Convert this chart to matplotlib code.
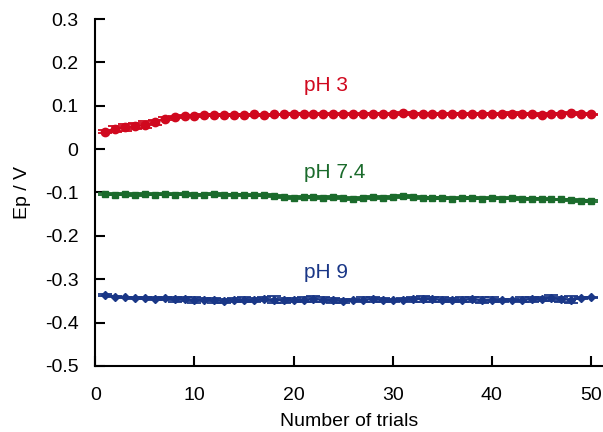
import numpy as np
import matplotlib.pyplot as plt

plt.rcParams["font.family"] = ["Liberation Sans", "DejaVu Sans"]

# ── données ──
trials = np.arange(1, 51)

ph3 = [0.040, 0.046, 0.050, 0.053, 0.056, 0.062, 0.070, 0.074, 0.076, 0.077,
       0.078, 0.078, 0.079, 0.079, 0.079, 0.080, 0.079, 0.080, 0.080, 0.081,
       0.082, 0.080, 0.081, 0.080, 0.081, 0.080, 0.081, 0.082, 0.081, 0.080,
       0.083, 0.081, 0.082, 0.081, 0.080, 0.082, 0.081, 0.080, 0.082, 0.081,
       0.080, 0.082, 0.080, 0.081, 0.079, 0.081, 0.082, 0.083, 0.081, 0.080]
ph3_err = [0.004, 0.007, 0.008, 0.007, 0.008, 0.006, 0.003, 0.002, 0.002, 0.002,
           0.002, 0.002, 0.002, 0.002, 0.002, 0.002, 0.002, 0.002, 0.002, 0.002,
           0.002, 0.002, 0.002, 0.002, 0.002, 0.002, 0.002, 0.002, 0.002, 0.002,
           0.002, 0.002, 0.002, 0.002, 0.002, 0.002, 0.002, 0.002, 0.002, 0.002,
           0.002, 0.003, 0.002, 0.002, 0.002, 0.002, 0.002, 0.002, 0.002, 0.002]

ph74 = [-0.104, -0.105, -0.104, -0.106, -0.104, -0.105, -0.104, -0.105, -0.104, -0.106,
        -0.105, -0.104, -0.106, -0.105, -0.106, -0.107, -0.106, -0.108, -0.110, -0.112,
        -0.111, -0.110, -0.112, -0.110, -0.113, -0.115, -0.112, -0.111, -0.113, -0.110,
        -0.109, -0.111, -0.112, -0.113, -0.112, -0.114, -0.113, -0.112, -0.114, -0.113,
        -0.114, -0.113, -0.115, -0.114, -0.115, -0.116, -0.116, -0.117, -0.119, -0.120]
ph74_err = [0.002] * 50

ph9 = [-0.337, -0.340, -0.342, -0.344, -0.343, -0.345, -0.344, -0.346, -0.345, -0.348,
       -0.347, -0.349, -0.350, -0.348, -0.347, -0.348, -0.346, -0.347, -0.349, -0.348,
       -0.347, -0.346, -0.347, -0.349, -0.350, -0.348, -0.347, -0.346, -0.348, -0.349,
       -0.347, -0.346, -0.345, -0.346, -0.347, -0.348, -0.347, -0.346, -0.348, -0.347,
       -0.349, -0.348, -0.347, -0.346, -0.345, -0.344, -0.346, -0.347, -0.343, -0.342]
ph9_err = [0.002, 0.002, 0.002, 0.002, 0.002, 0.003, 0.004, 0.006, 0.005, 0.006,
           0.004, 0.006, 0.005, 0.004, 0.006, 0.005, 0.004, 0.008, 0.006, 0.005,
           0.006, 0.007, 0.006, 0.005, 0.004, 0.003, 0.005, 0.006, 0.005, 0.004,
           0.003, 0.006, 0.007, 0.006, 0.005, 0.004, 0.005, 0.006, 0.007, 0.006,
           0.003, 0.002, 0.005, 0.006, 0.005, 0.007, 0.006, 0.008, 0.003, 0.002]

RED   = "#D0081E"
GREEN = "#1B6B2C"
BLUE  = "#1A3787"

series = [
    (ph3,  ph3_err,  RED,   "o", 6.0, "pH 3",   (21, 0.147)),
    (ph74, ph74_err, GREEN, "s", 5.0, "pH 7.4", (21, -0.053)),
    (ph9,  ph9_err,  BLUE,  "D", 4.0, "pH 9",   (21, -0.284)),
]

fig = plt.figure(figsize=(6.03, 4.32), dpi=100)
ax = fig.add_axes([0.158, 0.153, 0.842, 0.803])

for vals, err, col, mk, ms, lab, (tx, ty) in series:
    ax.errorbar(trials, vals, yerr=err, color=col, marker=mk, markersize=ms,
                linewidth=1.8, elinewidth=1.3, capsize=5, capthick=1.3)
    ax.text(tx, ty, lab, color=col, fontsize=15, ha="left", va="center")

ax.set_xlim(0, 51.2)
ax.set_ylim(-0.5, 0.3)
ax.set_xticks([0, 10, 20, 30, 40, 50])
ax.set_yticks(np.arange(-0.5, 0.31, 0.1))
ax.set_yticklabels(["-0.5", "-0.4", "-0.3", "-0.2", "-0.1", "0",
                    "0.1", "0.2", "0.3"])
ax.tick_params(direction="in", length=7, width=1.5, labelsize=14)
ax.tick_params(axis="y", pad=12)
ax.tick_params(axis="x", pad=15)
ax.spines["top"].set_visible(False)
ax.spines["right"].set_visible(False)
ax.spines["left"].set_linewidth(1.5)
ax.spines["bottom"].set_linewidth(1.5)
ax.set_xlabel("Number of trials", fontsize=14, labelpad=7)
ax.set_ylabel("Ep / V", fontsize=14, labelpad=10)

plt.savefig("out.png", dpi=100)
